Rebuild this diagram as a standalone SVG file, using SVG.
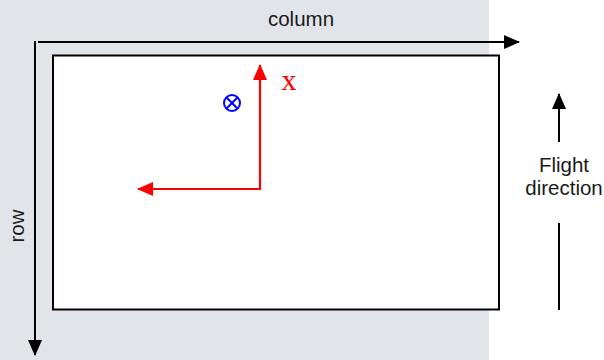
<svg xmlns="http://www.w3.org/2000/svg" width="604" height="360" viewBox="0 0 604 360">
<style>
.lbl{font-family:"Liberation Sans",Arial,sans-serif;font-size:20.5px;fill:#1a1a1a;text-anchor:middle}
.blk{stroke:#000;stroke-width:2;fill:none}
.red{stroke:#ff0000;stroke-width:2.2;fill:none}
</style>
<defs>
<marker id="ahb" viewBox="0 0 16 14" refX="15" refY="7" markerWidth="16" markerHeight="14" markerUnits="userSpaceOnUse" orient="auto">
<path d="M0,0 L16,7 L0,14 Z" fill="#000"/>
</marker>
<marker id="ahr" viewBox="0 0 16 14" refX="15" refY="7" markerWidth="16" markerHeight="14" markerUnits="userSpaceOnUse" orient="auto">
<path d="M0,0 L16,7 L0,14 Z" fill="#ff0000"/>
</marker>
</defs>
<rect x="0" y="0" width="604" height="360" fill="#ffffff"/>
<rect x="0" y="0" width="489" height="360" fill="#e1e4e9"/>
<g id="frame">
<rect x="53" y="55.5" width="446" height="254" fill="#ffffff" stroke="#000" stroke-width="2"/>
</g>
<g id="connectors">
<line class="blk" x1="38" y1="42" x2="519" y2="42" marker-end="url(#ahb)"/>
<line class="blk" x1="35" y1="41" x2="35" y2="355" marker-end="url(#ahb)"/>
<line class="red" x1="260" y1="189" x2="260" y2="65" marker-end="url(#ahr)"/>
<line class="red" x1="261" y1="189" x2="138" y2="189" marker-end="url(#ahr)"/>
<line class="blk" x1="559" y1="142" x2="559" y2="94" marker-end="url(#ahb)"/>
<line class="blk" x1="559" y1="223" x2="559" y2="310"/>
</g>
<g id="column-label"><text class="lbl" x="301" y="26">column</text></g>
<g id="row-label"><text class="lbl" transform="translate(24,226) rotate(-90)">row</text></g>
<g id="flight-label">
<text class="lbl" x="564" y="172">Flight</text>
<text class="lbl" x="564" y="195">direction</text>
</g>
<g id="x-label"><text x="289" y="90" font-family="'Liberation Serif','Times New Roman',serif" font-size="30" fill="#ff0000" text-anchor="middle">x</text></g>
<g id="z-symbol" stroke="#0000ff" stroke-width="2" fill="none">
<circle cx="232" cy="103" r="8"/>
<line x1="226.3" y1="97.3" x2="237.7" y2="108.7"/>
<line x1="237.7" y1="97.3" x2="226.3" y2="108.7"/>
</g>
</svg>
